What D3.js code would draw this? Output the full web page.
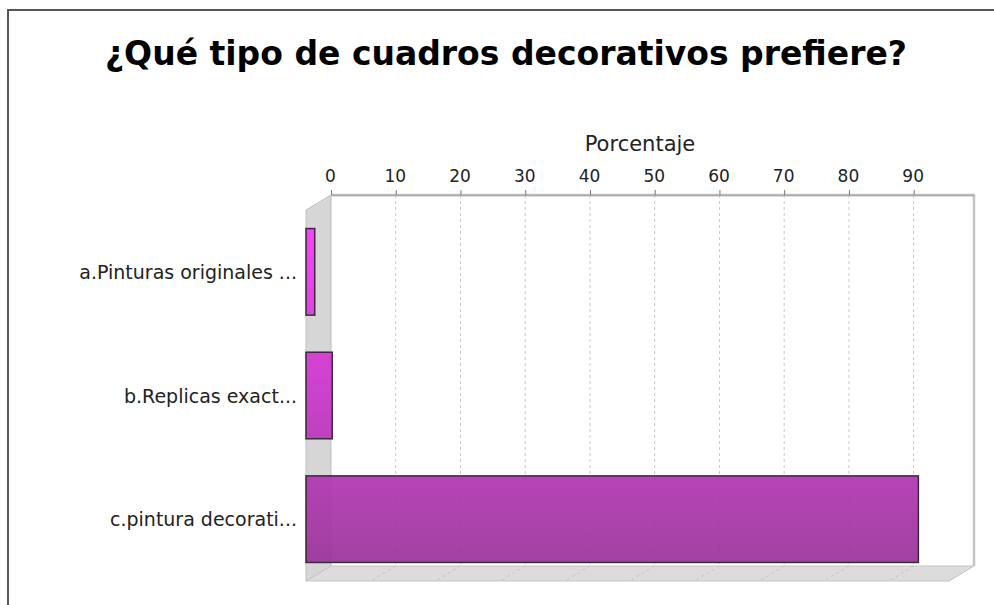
<!DOCTYPE html>
<html>
<head>
<meta charset="utf-8">
<script src="https://cdn.jsdelivr.net/npm/d3@7"></script>
<style>
  body { margin: 0; background: #fff; }
  svg { display: block; }
</style>
</head>
<body>
<div id="chart"></div>
<script>
// data
var categories = ["a.Pinturas originales ...", "b.Replicas exact...", "c.pintura decorati..."];
var values = [1.35, 4.05, 94.59];
var ticks = [0, 10, 20, 30, 40, 50, 60, 70, 80, 90];
var titleText = "¿Qué tipo de cuadros decorativos prefiere?";
var axisLabel = "Porcentaje";

var W = 994, H = 605;
// back wall of the 3D plot, and the depth offset
var plot = {left: 331, right: 974, top: 195, bottom: 566};
var dx = 25, dy = 15;

var svg = d3.select("#chart").append("svg")
    .attr("width", W)
    .attr("height", H);

var defs = svg.append("defs");
var grad = defs.append("linearGradient")
    .attr("id", "barGrad")
    .attr("gradientUnits", "userSpaceOnUse")
    .attr("x1", 0).attr("y1", 229)
    .attr("x2", 0).attr("y2", 562);
grad.append("stop").attr("offset", "0%").attr("stop-color", "#f83af8");
grad.append("stop").attr("offset", "100%").attr("stop-color", "#9a349a");

// chart border (runs past the right/bottom edge)
svg.append("rect")
    .attr("x", 8).attr("y", 10)
    .attr("width", 1100).attr("height", 700)
    .attr("fill", "none")
    .attr("stroke", "#555")
    .attr("stroke-width", 2);

var x = d3.scaleLinear().domain([0, values[2] * 1.05]).range([plot.left, plot.right]);
var y = d3.scaleBand().domain(categories)
    .range([plot.top + dy, plot.bottom + dy])
    .paddingInner(0.3)
    .paddingOuter(0.15);

// left wall
svg.append("path")
    .attr("d", "M" + (plot.left - dx) + "," + (plot.top + dy) +
        "L" + plot.left + "," + plot.top +
        "L" + plot.left + "," + plot.bottom +
        "L" + (plot.left - dx) + "," + (plot.bottom + dy) + "Z")
    .attr("fill", "#d6d6d6")
    .attr("stroke", "#c0c0c0");

// floor
svg.append("path")
    .attr("d", "M" + plot.left + "," + plot.bottom +
        "L" + plot.right + "," + plot.bottom +
        "L" + (plot.right - dx) + "," + (plot.bottom + dy) +
        "L" + (plot.left - dx) + "," + (plot.bottom + dy) + "Z")
    .attr("fill", "#dcdcdc")
    .attr("stroke", "#c4c4c4");

// gridlines on back wall and floor
var grid = svg.append("g");
grid.selectAll("line.back").data(ticks.slice(1)).enter()
    .append("line")
    .attr("class", "back")
    .attr("x1", function(d) { return x(d); })
    .attr("x2", function(d) { return x(d); })
    .attr("y1", plot.top)
    .attr("y2", plot.bottom)
    .attr("stroke", "#c8c8c8")
    .attr("stroke-dasharray", "3,3");
grid.selectAll("line.floor").data(ticks.slice(1)).enter()
    .append("line")
    .attr("class", "floor")
    .attr("x1", function(d) { return x(d); })
    .attr("x2", function(d) { return x(d) - dx; })
    .attr("y1", plot.bottom)
    .attr("y2", plot.bottom + dy)
    .attr("stroke", "#c4c4c4")
    .attr("stroke-dasharray", "3,3");

// back wall outline
svg.append("path")
    .attr("d", "M" + plot.left + "," + plot.top + "L" + plot.right + "," + plot.top +
        "L" + plot.right + "," + plot.bottom)
    .attr("fill", "none")
    .attr("stroke", "#c4c4c4")
    .attr("stroke-width", 2.5);

// top axis
var axis = svg.append("g")
    .attr("transform", "translate(0," + plot.top + ")")
    .call(d3.axisTop(x).tickValues(ticks).tickSize(5).tickSizeOuter(0));
axis.select(".domain").attr("stroke", "#aaa").attr("stroke-width", 1.5);
axis.selectAll(".tick line").attr("stroke", "#777");
axis.selectAll(".tick text")
    .attr("y", -13)
    .attr("dx", "-1")
    .attr("fill", "#222")
    .style("font-family", "'DejaVu Sans'")
    .style("font-size", "17px");

svg.append("text")
    .attr("x", (plot.left - dx + plot.right) / 2)
    .attr("y", 151)
    .attr("text-anchor", "middle")
    .attr("fill", "#222")
    .style("font-family", "'DejaVu Sans'")
    .style("font-size", "21px")
    .text(axisLabel);

// bars, drawn on the front plane
svg.append("g").selectAll("rect").data(values).enter()
    .append("rect")
    .attr("x", x(0) - dx)
    .attr("y", function(d, i) { return y(categories[i]); })
    .attr("width", function(d) { return x(d) - x(0); })
    .attr("height", y.bandwidth())
    .attr("fill", "url(#barGrad)")
    .attr("fill-opacity", 0.93)
    .attr("stroke", "#3a2a3a")
    .attr("stroke-width", 1.5);

// category labels
svg.append("g").selectAll("text").data(categories).enter()
    .append("text")
    .attr("x", 297)
    .attr("y", function(d) { return y(d) + y.bandwidth() / 2 + 7; })
    .attr("text-anchor", "end")
    .attr("fill", "#222")
    .style("font-family", "'DejaVu Sans'")
    .style("font-size", "19px")
    .text(function(d) { return d; });

// title
svg.append("text")
    .attr("x", 506)
    .attr("y", 65)
    .attr("text-anchor", "middle")
    .attr("fill", "#000")
    .style("font-family", "'DejaVu Sans'")
    .style("font-weight", "bold")
    .style("font-size", "33px")
    .text(titleText);
</script>
</body>
</html>
